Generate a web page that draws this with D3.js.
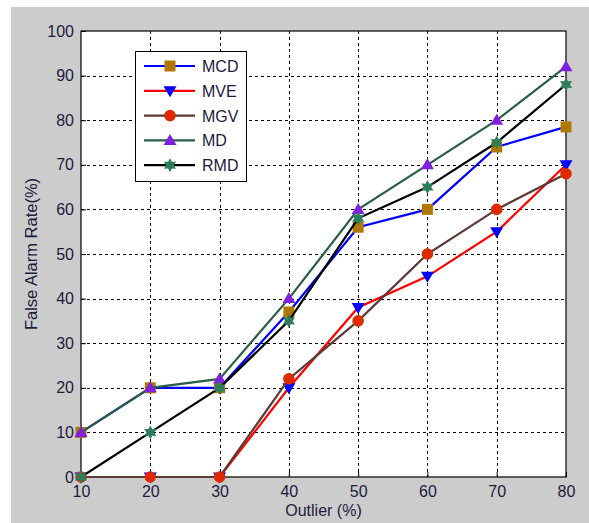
<!DOCTYPE html>
<html>
<head>
<meta charset="utf-8">
<script src="https://cdn.jsdelivr.net/npm/d3@7"></script>
<style>
  body { margin: 0; background: #fff; }
  svg text { font-family: "Liberation Sans", Arial, sans-serif; }
</style>
</head>
<body>
<div id="chart"></div>
<script>
// data
var outliers = [10, 20, 30, 40, 50, 60, 70, 80];
var mcd = [10, 20, 20, 37, 56, 60, 74, 78.5];
var mve = [0, 0, 0, 20, 38, 45, 55, 70];
var mgv = [0, 0, 0, 22, 35, 50, 60, 68];
var md  = [10, 20, 22, 40, 60, 70, 80, 92];
var rmd = [0, 10, 20, 35, 58, 65, 75, 88];
var yTicks = [0, 10, 20, 30, 40, 50, 60, 70, 80, 90, 100];

var series = [
    {name: "MCD", values: mcd, line: "#0000ff", marker: "square",   fill: "#b07800"},
    {name: "MVE", values: mve, line: "#ff0000", marker: "down",     fill: "#0000ff"},
    {name: "MGV", values: mgv, line: "#5a3a36", marker: "circle",   fill: "#dd2a00"},
    {name: "MD",  values: md,  line: "#2a5e44", marker: "up",       fill: "#7f1fe0"},
    {name: "RMD", values: rmd, line: "#000000", marker: "hexagram", fill: "#2e7d5a"}
];

var width = 589, height = 523;
var pLeft = 81, pRight = 566, pTop = 31, pBottom = 477;
var textColor = "#1e1a40";

var svg = d3.select("#chart").append("svg")
    .attr("width", width)
    .attr("height", height);

// figure background
svg.append("rect").attr("x", 11).attr("y", 7)
    .attr("width", width - 11).attr("height", height - 7)
    .attr("fill", "#cccccc");

var x = d3.scaleLinear().domain([10, 80]).range([pLeft, pRight]);
var y = d3.scaleLinear().domain([0, 100]).range([pBottom, pTop]);

svg.append("rect").attr("x", pLeft).attr("y", pTop)
    .attr("width", pRight - pLeft).attr("height", pBottom - pTop)
    .attr("fill", "#fff");

// dashed grid
var grid = svg.append("g").attr("stroke", "#000").attr("stroke-width", 1)
    .attr("stroke-dasharray", "3,3");
grid.selectAll(".gx").data(outliers.slice(1, -1)).enter().append("line")
    .attr("x1", function(d) { return Math.round(x(d)) + 0.5; })
    .attr("x2", function(d) { return Math.round(x(d)) + 0.5; })
    .attr("y1", pTop).attr("y2", pBottom);
grid.selectAll(".gy").data(yTicks.slice(1, -1)).enter().append("line")
    .attr("y1", function(d) { return Math.round(y(d)) + 0.5; })
    .attr("y2", function(d) { return Math.round(y(d)) + 0.5; })
    .attr("x1", pLeft).attr("x2", pRight);

// axes
var xAxis = d3.axisBottom(x).tickValues(outliers).tickSize(-5).tickPadding(9);
var yAxis = d3.axisLeft(y).tickValues(yTicks).tickSize(-5).tickPadding(7);

var gx = svg.append("g").attr("transform", "translate(0," + pBottom + ")").call(xAxis);
var gy = svg.append("g").attr("transform", "translate(" + pLeft + ",0)").call(yAxis);
[gx, gy].forEach(function(g) {
    g.select(".domain").remove();
    g.selectAll("line").attr("stroke", "#000");
    g.selectAll("text").attr("font-size", 16).attr("fill", textColor)
        .attr("font-family", "Liberation Sans, Arial, sans-serif");
});

// box
svg.append("rect").attr("x", pLeft).attr("y", pTop)
    .attr("width", pRight - pLeft).attr("height", pBottom - pTop)
    .attr("fill", "none").attr("stroke", "#000").attr("stroke-width", 1.2);

// labels
svg.append("text").attr("x", (pLeft + pRight) / 2).attr("y", 516)
    .attr("text-anchor", "middle").attr("font-size", 16).attr("fill", textColor)
    .text("Outlier (%)");
svg.append("text")
    .attr("transform", "translate(37," + (pTop + pBottom) / 2 + ") rotate(-90)")
    .attr("text-anchor", "middle").attr("font-size", 16.5).attr("fill", textColor)
    .text("False Alarm Rate(%)");

// marker shapes
function hexagram(r) {
    var pts = [];
    for (var i = 0; i < 12; i++) {
        var a = Math.PI / 2 + i * Math.PI / 6;
        var rr = (i % 2 === 0) ? r : r * 0.55;
        pts.push([rr * Math.cos(a), rr * Math.sin(a)]);
    }
    return "M" + pts.join("L") + "Z";
}
function markerPath(type) {
    if (type === "square") return "M-5.5,-5.5H5.5V5.5H-5.5Z";
    if (type === "down") return "M-6.5,-4.5H6.5L0,6.5Z";
    if (type === "up") return "M-6.5,4.5H6.5L0,-6.5Z";
    if (type === "circle") return d3.symbol().type(d3.symbolCircle).size(105)();
    return hexagram(7);
}

var line = d3.line()
    .x(function(d, i) { return x(outliers[i]); })
    .y(function(d) { return y(d); });

var plot = svg.append("g");
series.forEach(function(s) {
    plot.append("path").datum(s.values)
        .attr("d", line).attr("fill", "none")
        .attr("stroke", s.line).attr("stroke-width", 2.2);
    plot.selectAll(null).data(s.values).enter().append("path")
        .attr("d", markerPath(s.marker))
        .attr("transform", function(d, i) { return "translate(" + x(outliers[i]) + "," + y(d) + ")"; })
        .attr("fill", s.fill);
});

// legend
var legend = svg.append("g");
legend.append("rect").attr("x", 135.5).attr("y", 51.5)
    .attr("width", 111).attr("height", 130)
    .attr("fill", "#fff").attr("stroke", "#000").attr("stroke-width", 1);
series.forEach(function(s, i) {
    var ly = 66 + i * 24.8;
    legend.append("line").attr("x1", 144).attr("x2", 195)
        .attr("y1", ly).attr("y2", ly)
        .attr("stroke", s.line).attr("stroke-width", 2.2);
    legend.append("path").attr("d", markerPath(s.marker))
        .attr("transform", "translate(170," + ly + ")")
        .attr("fill", s.fill);
    legend.append("text").attr("x", 202).attr("y", ly + 6)
        .attr("font-size", 16).attr("fill", textColor)
        .text(s.name);
});
</script>
</body>
</html>
